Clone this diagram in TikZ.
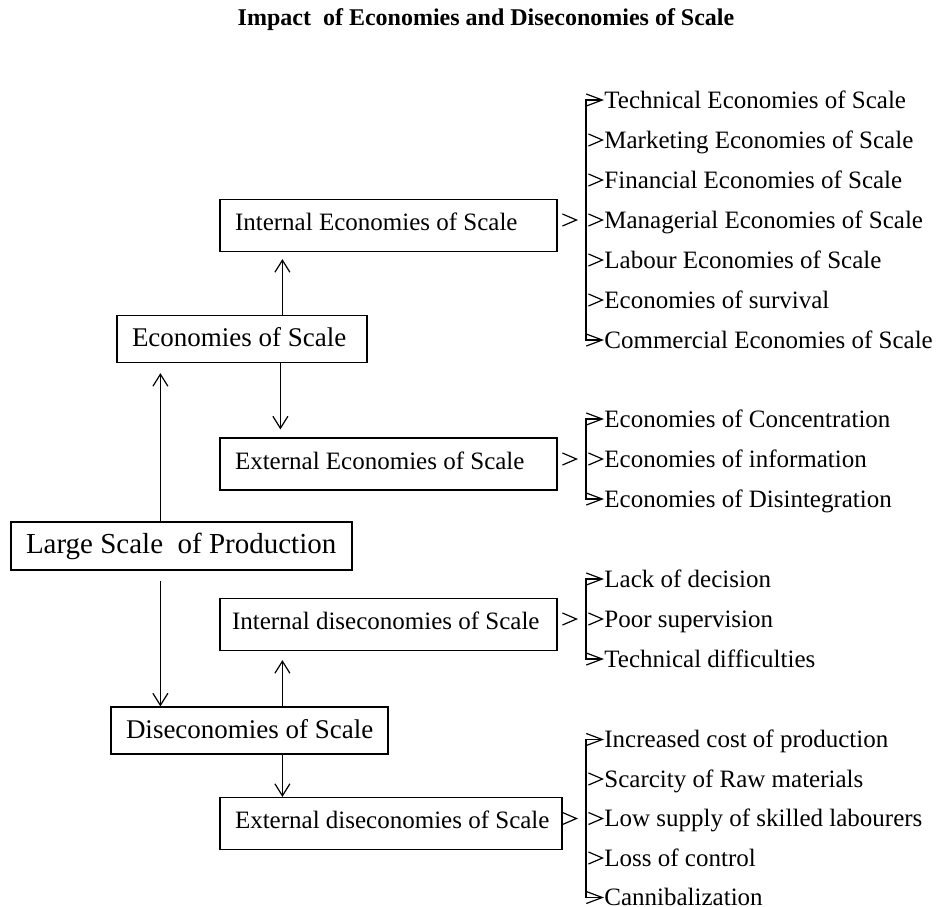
\documentclass[tikz,border=0pt]{standalone}
\usepackage{fontspec}
\setmainfont{Liberation Serif}
\usetikzlibrary{arrows.meta,positioning,calc}
\newcommand{\lefttext}[2]{\makebox[#1][l]{#2}}

\begin{document}
\begin{tikzpicture}[
    x=0.5pt, y=-0.5pt,
    box/.style={draw, line width=0.6pt, rectangle, inner xsep=7.5pt, inner ysep=0pt, text height=9pt, text depth=3.7pt, font=\fontsize{12.5}{15}\selectfont, minimum height=26pt},
    mainbox/.style={box, text depth=1.2pt, font=\fontsize{13.5}{16}\selectfont, minimum height=23.5pt},
    item/.style={anchor=west, inner sep=0pt, text height=8pt, text depth=0pt, font=\fontsize{12.5}{15}\selectfont},
    arr/.style={-{Straight Barb[length=6pt,width=7.5pt]}, line width=0.6pt},
    hook/.style={{Straight Barb[length=8pt,width=6pt]}-{Straight Barb[length=8pt,width=6pt]}, line width=0.6pt},
    bare/.style={-{Straight Barb[length=7pt,width=6pt]}, line width=0.6pt, dash pattern=on 0pt off 60pt},
]
    \useasboundingbox (0,0) rectangle (937,906);
    \node[font=\bfseries\fontsize{12}{14}\selectfont] (title) at (486,20) {Impact\ \ of Economies and Diseconomies of Scale};

    % Main boxes
    \node[mainbox, minimum height=24pt, font=\fontsize{14.5}{17}\selectfont] (lsp) at (181.5,546) {\lefttext{155.5pt}{Large Scale\ \ of Production}};
    \node[mainbox] (eos) at (242,339) {\lefttext{110pt}{Economies of Scale}};
    \node[mainbox] (dis) at (249.5,730.5) {\lefttext{123.5pt}{Diseconomies of Scale}};
    \node[box] (int) at (388.5,225.5) {\lefttext{153.5pt}{Internal Economies of Scale}};
    \node[box] (ext) at (388.5,464) {\lefttext{153.5pt}{External Economies of Scale}};
    \node[box, inner xsep=6pt] (idis) at (388.5,624.5) {\lefttext{156.5pt}{Internal diseconomies of Scale}};
    \node[box] (edis) at (391,823.5) {\lefttext{156pt}{External diseconomies of Scale}};

    % Vertical arrows
    \draw[arr, shorten >=5pt] ([xshift=75pt]lsp.north west) -- ([xshift=22pt]eos.south west);
    \draw[arr, shorten <=5pt] ([xshift=75pt]lsp.south west) -- ([xshift=25pt]dis.north west);
    \draw[arr, shorten >=3.5pt] ([xshift=83pt]eos.north west) -- ([xshift=31.5pt]int.south west);
    \draw[arr, shorten >=4pt] ([xshift=82pt]eos.south west) -- ([xshift=30.5pt]ext.north west);
    \draw[arr, shorten >=4.5pt] ([xshift=86pt]dis.north west) -- ([xshift=31.5pt]idis.south west);
    \draw[arr] ([xshift=86pt]dis.south west) -- ([xshift=31.5pt]edis.north west);

    % Lists
    \foreach \t [count=\i] in {Technical Economies of Scale, Marketing Economies of Scale, Financial Economies of Scale, Managerial Economies of Scale, Labour Economies of Scale, Economies of survival, Commercial Economies of Scale}
        \node[item] (a\i) at (604,60+40*\i) {\t};
    \foreach \t [count=\i] in {Economies of Concentration, Economies of information, Economies of Disintegration}
        \node[item] (b\i) at (604,379+40*\i) {\t};
    \foreach \t [count=\i] in {Lack of decision, Poor supervision, Technical difficulties}
        \node[item] (c\i) at (604,539+40*\i) {\t};
    \foreach \t [count=\i] in {Increased cost of production, Scarcity of Raw materials, Low supply of skilled labourers, Loss of control, Cannibalization}
        \node[item] (d\i) at (604,700+39.5*\i) {\t};

    % Brackets
    \draw[hook] (a1.west) -- ++(-18,0) |- (a7.west);
    \foreach \i in {2,...,6} \draw[bare] ([xshift=-9pt]a\i.west) -- (a\i.west);
    \draw[hook] (b1.west) -- ++(-18,0) |- (b3.west);
    \draw[bare] ([xshift=-9pt]b2.west) -- (b2.west);
    \draw[hook] (c1.west) -- ++(-18,0) |- (c3.west);
    \draw[bare] ([xshift=-9pt]c2.west) -- (c2.west);
    \draw[hook] (d1.west) -- ++(-18,0) |- (d5.west);
    \foreach \i in {2,...,4} \draw[bare] ([xshift=-9pt]d\i.west) -- (d\i.west);

    % Box to bracket
    \draw[bare, shorten >=4pt] (int.east |- a4.west) -- ([xshift=-9pt]a4.west);
    \draw[bare, shorten >=4pt] (ext.east |- b2.west) -- ([xshift=-9pt]b2.west);
    \draw[bare, shorten >=4pt] (idis.east |- c2.west) -- ([xshift=-9pt]c2.west);
    \draw[bare, shorten >=4pt] (edis.east |- d3.west) -- ([xshift=-9pt]d3.west);
\end{tikzpicture}
\end{document}
